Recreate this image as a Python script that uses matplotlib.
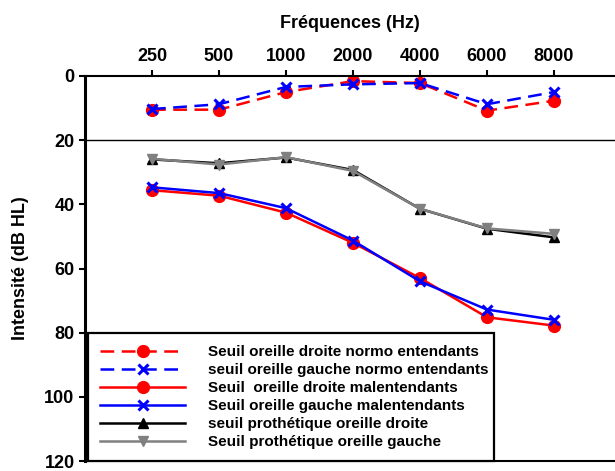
#!/usr/bin/env python3
"""Audiogramme : seuils normo-entendants, malentendants et prothétiques."""

import matplotlib
matplotlib.use("Agg")
import matplotlib.pyplot as plt

plt.rcParams["font.family"] = ["Liberation Sans", "DejaVu Sans"]
plt.rcParams["font.weight"] = "bold"

freqs = ["250", "500", "1000", "2000", "4000", "6000", "8000"]

normo_droite = [10.5, 10.5, 5.0, 1.6, 2.2, 10.8, 7.7]
normo_gauche = [10.3, 8.8, 3.4, 2.6, 2.2, 8.8, 5.0]
mal_droite = [35.6, 37.3, 42.6, 52.0, 63.0, 75.2, 77.8]
mal_gauche = [34.7, 36.5, 41.2, 51.3, 64.0, 72.8, 76.0]
proth_droite = [26.0, 27.2, 25.4, 29.3, 41.4, 47.6, 50.3]
proth_gauche = [25.8, 27.6, 25.3, 29.6, 41.4, 47.5, 49.2]

labels = [
    "Seuil oreille droite normo entendants",
    "seuil oreille gauche normo entendants",
    "Seuil  oreille droite malentendants",
    "Seuil oreille gauche malentendants",
    "seuil prothétique oreille droite",
    "Seuil prothétique oreille gauche",
]

fig = plt.figure(figsize=(6.15, 4.71), dpi=100)
ax = fig.add_axes([85 / 615, 1 - 461 / 471, 530 / 615, 385 / 471])

x = list(range(len(freqs)))
dash = [5.5, 3]
lw = 1.8

ax.plot(x, normo_droite, color="#ff0000", lw=lw, dashes=dash, marker="o",
        ms=8.5, label=labels[0])
ax.plot(x, normo_gauche, color="#0000ff", lw=lw, dashes=dash, marker="x",
        ms=7, mew=2.2, label=labels[1])
ax.plot(x, mal_droite, color="#ff0000", lw=lw, marker="o", ms=8.5,
        label=labels[2])
ax.plot(x, mal_gauche, color="#0000ff", lw=lw, marker="x", ms=7, mew=2.2,
        label=labels[3])
ax.plot(x, proth_droite, color="black", lw=lw, marker="^", ms=7.5,
        label=labels[4])
ax.plot(x, proth_gauche, color="#808080", lw=lw, marker="v", ms=7.5,
        label=labels[5])

ax.axhline(20, color="black", lw=1.0, zorder=0)

ax.set_xlim(-1, 6.91)
ax.set_ylim(120, 0)
ax.set_yticks(range(0, 121, 20))
ax.set_xticks(x)
ax.set_xticklabels(freqs)

ax.xaxis.tick_top()
ax.xaxis.set_label_position("top")
ax.set_xlabel("Fréquences (Hz)", fontsize=13, fontweight="bold", labelpad=14)
ax.set_ylabel("Intensité (dB HL)", fontsize=13, fontweight="bold", labelpad=11)
ax.tick_params(axis="both", direction="out", length=4, width=1.5,
               labelsize=13, colors="black")
ax.tick_params(axis="x", pad=4)
for lab in ax.get_xticklabels() + ax.get_yticklabels():
    lab.set_fontweight("bold")

ax.spines["right"].set_visible(False)
ax.spines["left"].set_linewidth(2.2)
ax.spines["top"].set_linewidth(1.5)
ax.spines["bottom"].set_linewidth(1.5)

leg = ax.legend(loc="upper left", bbox_to_anchor=(0.006, 0, 0.766, 0.332),
                mode="expand", borderaxespad=0, fontsize=11, handlelength=5.55,
                handletextpad=1.5, labelspacing=0.26, fancybox=False,
                framealpha=1, edgecolor="black", borderpad=0.8)
leg.get_frame().set_linewidth(1.6)
for t in leg.get_texts():
    t.set_fontweight("bold")

fig.savefig("out.png", dpi=100)
